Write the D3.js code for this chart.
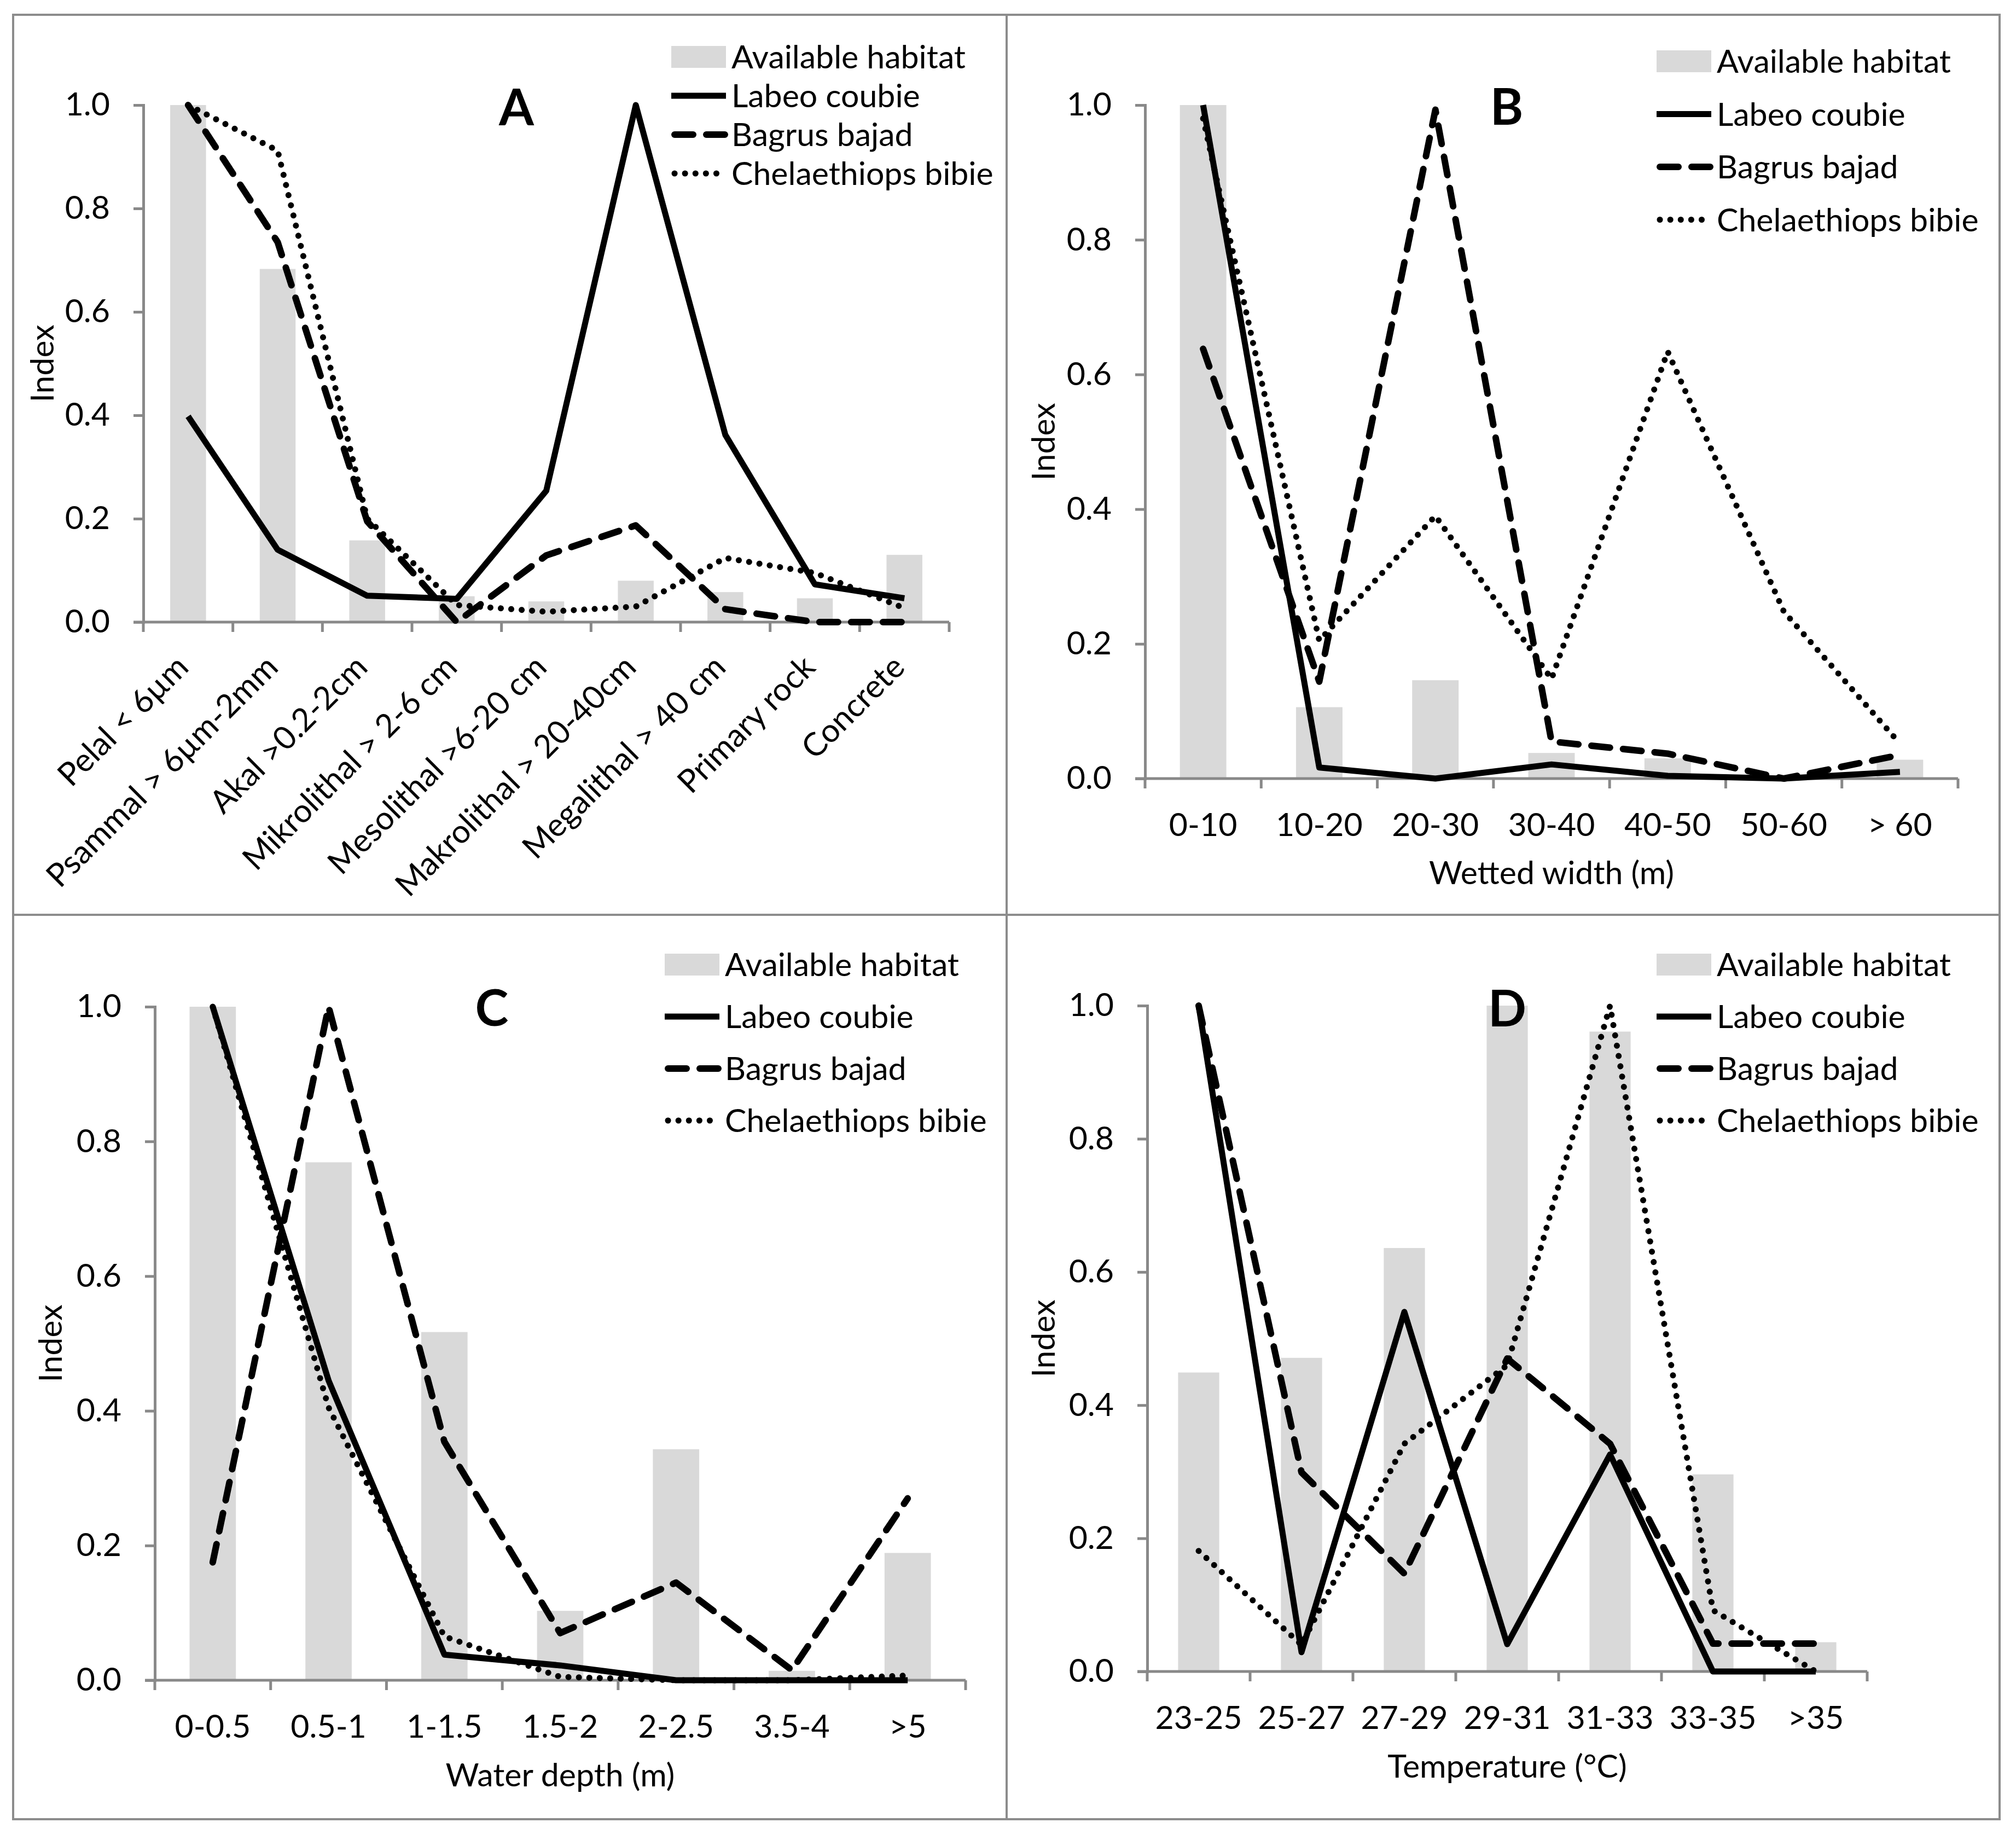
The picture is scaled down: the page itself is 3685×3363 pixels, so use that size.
<!DOCTYPE html>
<html>
<head>
<meta charset="utf-8">
<script src="https://cdn.jsdelivr.net/npm/d3@7"></script>
<style>
  body { margin: 0; background: #fff; }
  svg text { font-family: Lato, "Open Sans", sans-serif; fill: #000; }
</style>
</head>
<body>
<svg id="chart" width="3685" height="3363"></svg>
<script>
// ---- data ----
const seriesNames = ["Available habitat", "Labeo coubie", "Bagrus bajad", "Chelaethiops bibie"];
const yTicks = [0, 0.2, 0.4, 0.6, 0.8, 1.0];

// A: substrate
const substrateCats = ["Pelal < 6µm", "Psammal > 6µm-2mm", "Akal >0.2-2cm", "Mikrolithal > 2-6 cm",
  "Mesolithal >6-20 cm", "Makrolithal > 20-40cm", "Megalithal > 40 cm", "Primary rock", "Concrete"];
const substrateHabitat = [1.0, 0.683, 0.158, 0.05, 0.04, 0.08, 0.058, 0.046, 0.13];
const substrateLabeo   = [0.398, 0.14, 0.051, 0.045, 0.254, 1.0, 0.362, 0.073, 0.046];
const substrateBagrus  = [1.0, 0.735, 0.195, 0.0, 0.129, 0.187, 0.025, 0.0, 0.0];
const substrateChela   = [1.0, 0.912, 0.2, 0.033, 0.02, 0.03, 0.124, 0.095, 0.027];

// B: wetted width
const widthCats    = ["0-10", "10-20", "20-30", "30-40", "40-50", "50-60", "> 60"];
const widthHabitat = [1.0, 0.106, 0.146, 0.038, 0.03, 0.0, 0.028];
const widthLabeo   = [1.0, 0.0165, 0.0, 0.021, 0.004, 0.0, 0.01];
const widthBagrus  = [0.638, 0.144, 0.993, 0.055, 0.037, 0.0, 0.035];
const widthChela   = [0.98, 0.205, 0.39, 0.148, 0.634, 0.248, 0.052];

// C: water depth
const depthCats    = ["0-0.5", "0.5-1", "1-1.5", "1.5-2", "2-2.5", "3.5-4", ">5"];
const depthHabitat = [1.0, 0.769, 0.517, 0.103, 0.343, 0.014, 0.189];
const depthLabeo   = [1.0, 0.445, 0.038, 0.022, 0.0, 0.0, 0.0];
const depthBagrus  = [0.175, 1.0, 0.354, 0.07, 0.145, 0.015, 0.27];
const depthChela   = [1.0, 0.405, 0.065, 0.005, 0.0, 0.0, 0.007];

// D: temperature
const tempCats    = ["23-25", "25-27", "27-29", "29-31", "31-33", "33-35", ">35"];
const tempHabitat = [0.449, 0.471, 0.636, 1.0, 0.961, 0.296, 0.044];
const tempLabeo   = [1.0, 0.029, 0.54, 0.041, 0.326, 0.0, 0.0];
const tempBagrus  = [1.0, 0.299, 0.147, 0.47, 0.342, 0.042, 0.042];
const tempChela   = [0.181, 0.04, 0.342, 0.46, 1.0, 0.092, 0.0];

const panels = [
  {letter: "A", cats: substrateCats, habitat: substrateHabitat, labeo: substrateLabeo, bagrus: substrateBagrus, chela: substrateChela,
   frame: [24, 27, 1840, 1672], left: 262, right: 1735, top: 192, bottom: 1137, rotate: true, xTitle: null,
   letterPos: [944, 229], legendX: 1227, legendY: 104, legendDy: 71, yTitleX: 77},
  {letter: "B", cats: widthCats, habitat: widthHabitat, labeo: widthLabeo, bagrus: widthBagrus, chela: widthChela,
   frame: [1840, 27, 3655, 1672], left: 2093, right: 3579, top: 192, bottom: 1423, rotate: false, xTitle: "Wetted width (m)", xTitleY: 1616,
   letterPos: [2754, 228], legendX: 3028, legendY: 112, legendDy: 96.5, yTitleX: 1907},
  {letter: "C", cats: depthCats, habitat: depthHabitat, labeo: depthLabeo, bagrus: depthBagrus, chela: depthChela,
   frame: [24, 1672, 1840, 3325], left: 283, right: 1765, top: 1840, bottom: 3071, rotate: false, xTitle: "Water depth (m)", xTitleY: 3265,
   letterPos: [899, 1875], legendX: 1215, legendY: 1763, legendDy: 95, yTitleX: 92},
  {letter: "D", cats: tempCats, habitat: tempHabitat, labeo: tempLabeo, bagrus: tempBagrus, chela: tempChela,
   frame: [1840, 1672, 3655, 3325], left: 2097, right: 3413, top: 1838, bottom: 3055, rotate: false, xTitle: "Temperature (°C)", xTitleY: 3249,
   letterPos: [2755, 1876], legendX: 3028, legendY: 1763, legendDy: 95, yTitleX: 1907}
];

const fontSize = 59;
const axisColor = "#898989";
const barColor = "#d9d9d9";
const lineStyles = [
  {key: "labeo", dash: null, width: 11, cap: "butt"},
  {key: "bagrus", dash: "34,24", width: 12, cap: "round"},
  {key: "chela", dash: "0.1,19", width: 11, cap: "round"}
];

const svg = d3.select("#chart");

panels.forEach(p => {
  const [fx0, fy0, fx1, fy1] = p.frame;
  svg.append("rect")
      .attr("x", fx0).attr("y", fy0)
      .attr("width", fx1 - fx0).attr("height", fy1 - fy0)
      .attr("fill", "none").attr("stroke", "#8c8c8c").attr("stroke-width", 4);

  const x = d3.scaleBand().domain(p.cats).range([p.left, p.right]).paddingInner(0).paddingOuter(0);
  const y = d3.scaleLinear().domain([0, 1]).range([p.bottom, p.top]);
  const g = svg.append("g");

  // bars
  g.selectAll(".bar")
      .data(p.cats.map((c, i) => ({c, v: p.habitat[i]})))
      .enter()
      .append("rect")
      .attr("x", d => x(d.c) + x.bandwidth() * 0.3)
      .attr("width", x.bandwidth() * 0.4)
      .attr("y", d => y(d.v))
      .attr("height", d => y(0) - y(d.v))
      .attr("fill", barColor);

  // y axis
  const yAxis = g.append("g")
      .attr("transform", `translate(${p.left},0)`)
      .call(d3.axisLeft(y).tickValues(yTicks).tickFormat(d3.format(".1f")).tickSize(18).tickPadding(43));
  yAxis.select(".domain").attr("stroke", axisColor).attr("stroke-width", 5);
  yAxis.selectAll(".tick line").attr("stroke", axisColor).attr("stroke-width", 5);
  yAxis.selectAll(".tick text").attr("font-size", fontSize).style("font-family", "Lato");

  // x axis: ticks at category boundaries
  const bounds = p.cats.map(c => x(c)).concat([p.right]);
  g.append("line")
      .attr("x1", p.left - 18).attr("x2", p.right)
      .attr("y1", p.bottom).attr("y2", p.bottom)
      .attr("stroke", axisColor).attr("stroke-width", 5);
  g.selectAll(".xtick")
      .data(bounds)
      .enter()
      .append("line")
      .attr("x1", d => d).attr("x2", d => d)
      .attr("y1", p.bottom).attr("y2", p.bottom + 18)
      .attr("stroke", axisColor).attr("stroke-width", 5);

  if (p.rotate) {
    g.selectAll(".xlab")
        .data(p.cats)
        .enter()
        .append("text")
        .attr("transform", d => `translate(${x(d) + x.bandwidth() / 2 + 4},${p.bottom + 86}) rotate(-45)`)
        .attr("text-anchor", "end")
        .attr("font-size", fontSize)
        .text(d => d);
  } else {
    g.selectAll(".xlab")
        .data(p.cats)
        .enter()
        .append("text")
        .attr("x", d => x(d) + x.bandwidth() / 2)
        .attr("y", p.bottom + 105)
        .attr("text-anchor", "middle")
        .attr("font-size", fontSize)
        .text(d => d);
    g.append("text")
        .attr("x", (p.left + p.right) / 2)
        .attr("y", p.xTitleY)
        .attr("text-anchor", "middle")
        .attr("font-size", fontSize)
        .text(p.xTitle);
  }

  // y title
  g.append("text")
      .attr("transform", `translate(${p.yTitleX},${(p.top + p.bottom) / 2}) rotate(-90)`)
      .attr("text-anchor", "middle")
      .attr("dy", "0.35em")
      .attr("font-size", fontSize)
      .text("Index");

  // lines
  const line = d3.line()
      .x((d, i) => x(p.cats[i]) + x.bandwidth() / 2)
      .y(d => y(d));
  lineStyles.forEach(s => {
    g.append("path")
        .datum(p[s.key])
        .attr("d", line)
        .attr("fill", "none")
        .attr("stroke", "#000")
        .attr("stroke-width", s.width)
        .attr("stroke-linejoin", "round")
        .attr("stroke-linecap", s.cap)
        .attr("stroke-dasharray", s.dash);
  });

  // panel letter
  g.append("text")
      .attr("x", p.letterPos[0]).attr("y", p.letterPos[1])
      .attr("text-anchor", "middle")
      .attr("font-size", 92)
      .attr("font-weight", "bold")
      .text(p.letter);

  // legend
  const lg = g.append("g");
  seriesNames.forEach((name, i) => {
    const cy = p.legendY + i * p.legendDy;
    if (i === 0) {
      lg.append("rect")
          .attr("x", p.legendX).attr("y", cy - 20)
          .attr("width", 100).attr("height", 40)
          .attr("fill", barColor);
    } else {
      const s = lineStyles[i - 1];
      lg.append("line")
          .attr("x1", p.legendX + (s.cap === "round" ? 6 : 0)).attr("x2", p.legendX + 100)
          .attr("y1", cy).attr("y2", cy)
          .attr("stroke", "#000")
          .attr("stroke-width", s.width)
          .attr("stroke-linecap", s.cap)
          .attr("stroke-dasharray", s.dash);
    }
    lg.append("text")
        .attr("x", p.legendX + 110)
        .attr("y", cy)
        .attr("dy", "0.36em")
        .attr("font-size", fontSize)
        .text(name);
  });
});
</script>
</body>
</html>
